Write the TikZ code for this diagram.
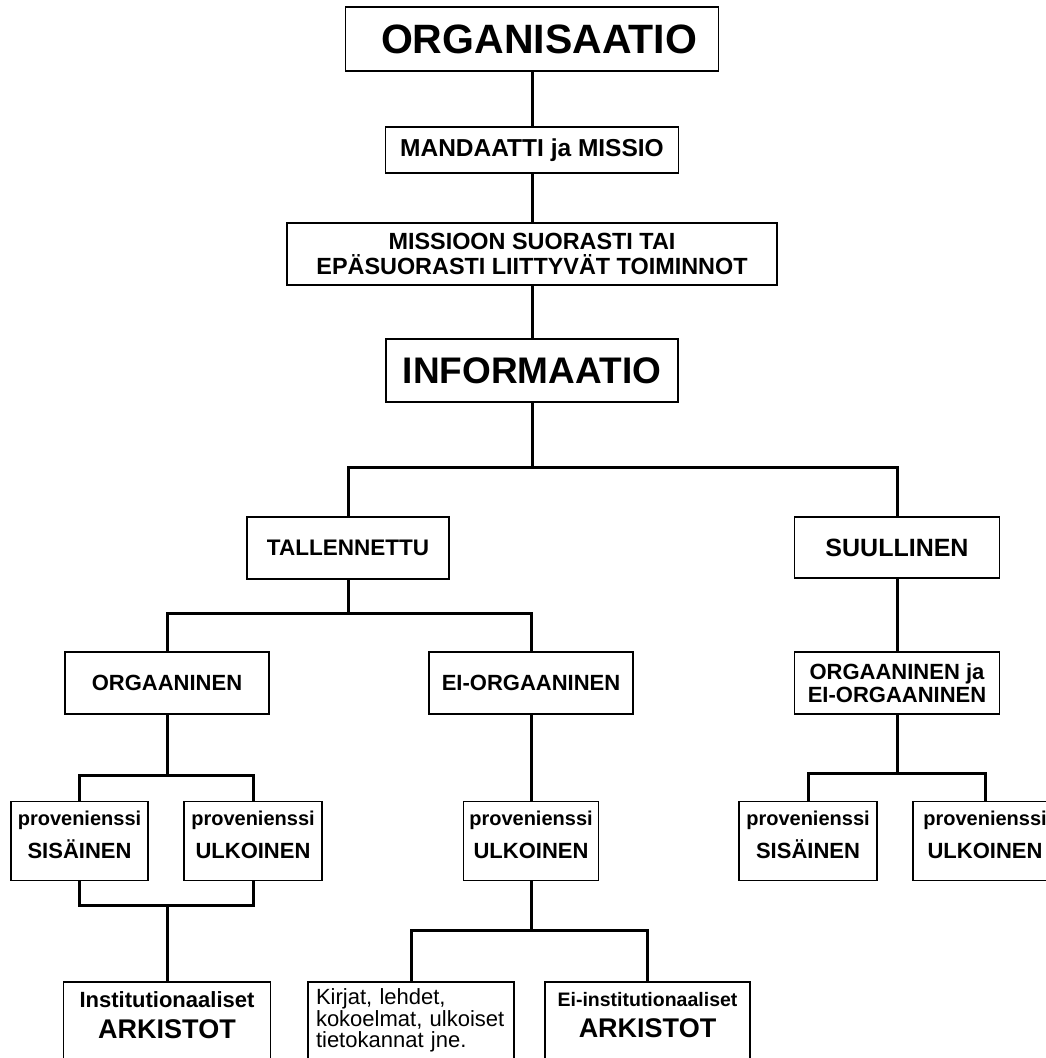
\documentclass[tikz,border=0pt]{standalone}
\usepackage{fontspec}
\setmainfont{Liberation Sans}

\begin{document}
\begin{tikzpicture}[x=1pt,y=-1pt,box/.style 2 args={draw,line width=1.8pt,rectangle,minimum width=#1pt,minimum height=#2pt,inner sep=0pt,align=center},link/.style={line width=3pt},bigtext/.style={font=\fontsize{#1}{#1}\selectfont\bfseries},prov/.style={font=\fontsize{20}{33}\selectfont\bfseries,text depth=13pt},arch/.style={font=\fontsize{#1}{31}\selectfont\bfseries,text depth=11pt}]
\path[use as bounding box,fill=white] (0,0) rectangle (1046,1058);
\clip (0,0) rectangle (1046,1058);
\node[box={373}{64},bigtext=41] (organisaatio) at (532,39) {\hspace*{14pt}ORGANISAATIO};
\node[box={293}{46},bigtext=24.5] (mandaatti) at (532,150) {MANDAATTI ja MISSIO};
\node[box={490}{62},font=\fontsize{23.4}{25}\selectfont\bfseries] (toiminnot) at (532,254)
   {MISSIOON SUORASTI TAI\\EPÄSUORASTI LIITTYVÄT TOIMINNOT};
\node[box={292}{63},bigtext=37] (informaatio) at (532,370.5) {INFORMAATIO};
\node[box={202}{62},bigtext=22.5] (tallennettu) at (348,548) {TALLENNETTU};
\node[box={205}{61},bigtext=25] (suullinen) at (897,547.5) {SUULLINEN};
\node[box={204}{62},bigtext=22] (orgaaninen) at (167,683) {ORGAANINEN};
\node[box={204}{62},bigtext=22] (eiorgaaninen) at (531,683) {EI-ORGAANINEN};
\node[box={205}{62},font=\fontsize{22}{23}\selectfont\bfseries] (molemmat) at (897,683)
   {ORGAANINEN ja\\EI-ORGAANINEN};
\foreach \nimi/\x/\leveys/\sana in %
{sis1/79.5/137/SISÄINEN,ulk1/253/138/ULKOINEN,ulk2/531/135/ULKOINEN,sis3/808/138/SISÄINEN,ulk3/985/144/ULKOINEN} {
   \node[box={\leveys}{79},prov] (\nimi) at (\x,841) {provenienssi\\{\fontsize{22}{33}\selectfont\sana}};
}
\node[box={207}{77},arch=22] (instarkistot) at (167,1020.5)
   {Institutionaaliset\\{\fontsize{27}{31}\selectfont ARKISTOT}};
\node[box={206}{77},font=\fontsize{22}{21.5}\selectfont,align=left,text width=190pt] (kirjat) at (411,1020.5)
   {Kirjat, lehdet,\\kokoelmat, ulkoiset\\tietokannat jne.};
\node[box={205}{77},arch=19.5] (eiarkistot) at (647.5,1020.5)
   {Ei-institutionaaliset\\{\fontsize{27}{31}\selectfont ARKISTOT}};
\coordinate (yhtyma) at (167,905);
\foreach \ylempi/\alempi in %
{organisaatio/mandaatti,mandaatti/toiminnot,toiminnot/informaatio,suullinen/molemmat,eiorgaaninen/ulk2} {
   \draw[link] (\ylempi.south) -- (\alempi.north);
}
\foreach \ylempi/\alempi/\pudotus in %
{informaatio/tallennettu/65,informaatio/suullinen/65,tallennettu/orgaaninen/34,tallennettu/eiorgaaninen/34,orgaaninen/sis1/61,orgaaninen/ulk1/61,ulk2/kirjat/49,ulk2/eiarkistot/49,molemmat/sis3/59,molemmat/ulk3/59} {
   \draw[link] (\ylempi.south) -- ++(0,\pudotus) -| (\alempi.north);
}
\draw[link] (sis1.south) |- (yhtyma) -| (ulk1.south);
\draw[link] (yhtyma) -- (instarkistot.north);
\end{tikzpicture}
\end{document}
